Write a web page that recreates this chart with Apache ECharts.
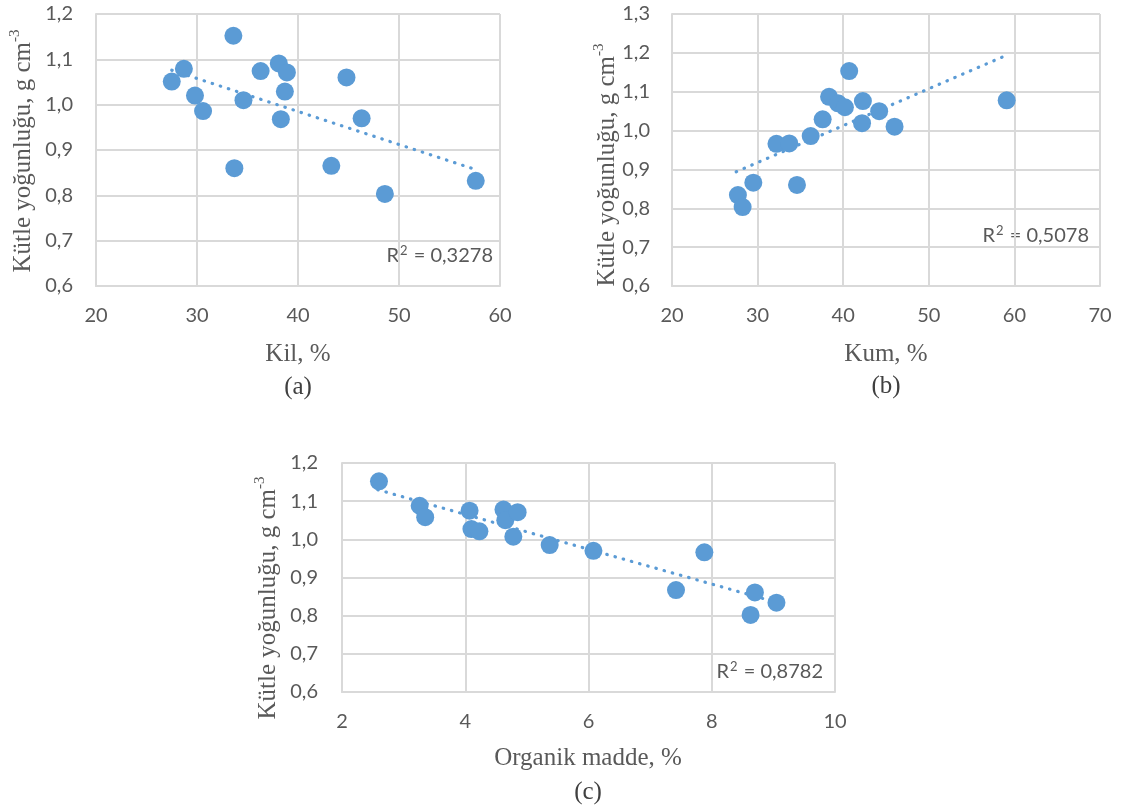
<!DOCTYPE html>
<html>
<head>
<meta charset="utf-8">
<script src="https://cdn.jsdelivr.net/npm/echarts@6/dist/echarts.min.js"></script>
<style>
  html, body { margin: 0; padding: 0; background: #ffffff; }
  #chart { width: 1125px; height: 809px; }
</style>
</head>
<body>
<div id="chart"></div>
<script>
// ---- Data ----
// (a) Kil (clay) %, bulk density
const kilX = [27.5, 28.7, 29.8, 30.6, 33.6, 33.7, 34.6, 36.3, 38.1, 38.3, 38.9, 38.7, 44.8, 43.3, 46.3, 48.6, 57.6];
const kilY = [1.051, 1.079, 1.020, 0.986, 1.152, 0.860, 1.010, 1.074, 1.091, 0.968, 1.071, 1.029, 1.060, 0.865, 0.970, 0.803, 0.832];
const trendKil = [[27.5, 1.076], [57.3, 0.859]];
const r2Kil = '0,3278';

// (b) Kum (sand) %, bulk density
const kumX = [27.7, 28.25, 29.5, 34.6, 32.2, 33.7, 36.2, 37.6, 38.35, 39.4, 40.2, 40.7, 42.3, 42.2, 44.2, 46.0, 59.1];
const kumY = [0.834, 0.803, 0.866, 0.860, 0.966, 0.967, 0.986, 1.029, 1.087, 1.070, 1.060, 1.153, 1.076, 1.019, 1.050, 1.010, 1.078];
const trendKum = [[27.5, 0.894], [59.2, 1.195]];
const r2Kum = '0,5078';

// (c) Organik madde %, bulk density
const omX = [2.60, 3.26, 3.35, 4.07, 4.10, 4.23, 4.62, 4.65, 4.85, 4.78, 5.37, 6.08, 7.88, 7.42, 8.70, 9.05, 8.63];
const omY = [1.152, 1.088, 1.058, 1.075, 1.027, 1.021, 1.078, 1.050, 1.071, 1.007, 0.985, 0.970, 0.966, 0.867, 0.861, 0.834, 0.802];
const trendOm = [[2.58, 1.130], [9.05, 0.835]];
const r2Om = '0,8782';

const xTitles = ['Kil, %', 'Kum, %', 'Organik madde, %'];
const captions = ['(a)', '(b)', '(c)'];
const yTitle = 'Kütle yoğunluğu, g cm';
const yTitleSup = '-3';

// ---- Styling ----
const BLUE = '#5B9BD5';
const GRID = '#d9d9d9';
const TICK = '#595959';
const SANS = 'Lato, "Noto Sans", sans-serif';
const SERIF = '"Liberation Serif", "DejaVu Serif", serif';

const grids = [
  { left: 96,  top: 14,  width: 404, height: 272 },
  { left: 672, top: 14,  width: 428, height: 272 },
  { left: 342, top: 463, width: 493, height: 229 }
];

function fmtComma(v) { return v.toFixed(1).replace('.', ','); }

function xAxis(gi, min, max, interval) {
  return {
    type: 'value', gridIndex: gi, min: min, max: max, interval: interval,
    axisLine: { show: true, lineStyle: { color: GRID, width: 2 } },
    axisTick: { show: false },
    splitLine: { show: true, lineStyle: { color: GRID, width: 2 } },
    axisLabel: { color: TICK, fontFamily: SANS, fontSize: 20, margin: 20 }
  };
}
function yAxis(gi, min, max, margin) {
  return {
    type: 'value', gridIndex: gi, min: min, max: max, interval: 0.1,
    axisLine: { show: true, lineStyle: { color: GRID, width: 2 } },
    axisTick: { show: false },
    splitLine: { show: true, lineStyle: { color: GRID, width: 2 } },
    axisLabel: { color: TICK, fontFamily: SANS, fontSize: 20, margin: margin, formatter: fmtComma }
  };
}

function pts(xs, ys) { return xs.map((x, i) => [x, ys[i]]); }

function scatter(i, xs, ys) {
  return {
    type: 'scatter', xAxisIndex: i, yAxisIndex: i, data: pts(xs, ys),
    symbol: 'circle', symbolSize: 18, itemStyle: { color: BLUE, opacity: 1 }, z: 3
  };
}
function trend(i, d) {
  return {
    type: 'line', xAxisIndex: i, yAxisIndex: i, data: d, symbol: 'none',
    lineStyle: { color: BLUE, width: 3.2, type: [0.5, 8], cap: 'round' }, z: 2,
    silent: true
  };
}

function textEl(x, y, text, font, size, color, align) {
  return {
    type: 'text', x: x, y: y, silent: true,
    style: { text: text, fontFamily: font, fontSize: size, fill: color, align: align || 'center', verticalAlign: 'middle' }
  };
}
function r2El(x, y, val) {
  return {
    type: 'text', x: x, y: y, silent: true,
    style: {
      text: '{a|R}{s|2}{a| = ' + val + '}',
      align: 'right', verticalAlign: 'middle',
      rich: {
        a: { fontFamily: SANS, fontSize: 20, fill: TICK, lineHeight: 24 },
        s: { fontFamily: SANS, fontSize: 13, fill: TICK, lineHeight: 24, verticalAlign: 'top', padding: [0, 1, 8, 1] }
      }
    }
  };
}
function yTitleEl(x, y) {
  return {
    type: 'text', x: x, y: y, rotation: Math.PI / 2, silent: true,
    style: {
      text: '{a|' + yTitle + '}{s|' + yTitleSup + '}',
      align: 'center', verticalAlign: 'middle',
      rich: {
        a: { fontFamily: SERIF, fontSize: 25, fill: TICK, lineHeight: 30 },
        s: { fontFamily: SERIF, fontSize: 15, fill: TICK, lineHeight: 30, verticalAlign: 'top', padding: [0, 0, 14, 0] }
      }
    }
  };
}

const option = {
  animation: false,
  backgroundColor: '#ffffff',
  grid: grids,
  xAxis: [xAxis(0, 20, 60, 10), xAxis(1, 20, 70, 10), xAxis(2, 2, 10, 2)],
  yAxis: [yAxis(0, 0.6, 1.2, 23), yAxis(1, 0.6, 1.3, 22), yAxis(2, 0.6, 1.2, 24)],
  series: [
    trend(0, trendKil), scatter(0, kilX, kilY),
    trend(1, trendKum), scatter(1, kumX, kumY),
    trend(2, trendOm), scatter(2, omX, omY)
  ],
  graphic: [
    r2El(493, 256, r2Kil),
    r2El(1089, 236, r2Kum),
    r2El(823, 672, r2Om),
    textEl(298, 354, xTitles[0], SERIF, 25, TICK),
    textEl(886, 354, xTitles[1], SERIF, 25, TICK),
    textEl(588, 758, xTitles[2], SERIF, 25, TICK),
    textEl(298, 387, captions[0], SERIF, 25, '#404040'),
    textEl(886, 386, captions[1], SERIF, 25, '#404040'),
    textEl(588, 792, captions[2], SERIF, 25, '#404040'),
    yTitleEl(23, 151),
    yTitleEl(607, 165),
    yTitleEl(268, 598)
  ]
};

const chart = echarts.init(document.getElementById('chart'), null, { renderer: 'canvas' });
chart.setOption(option);
</script>
</body>
</html>
